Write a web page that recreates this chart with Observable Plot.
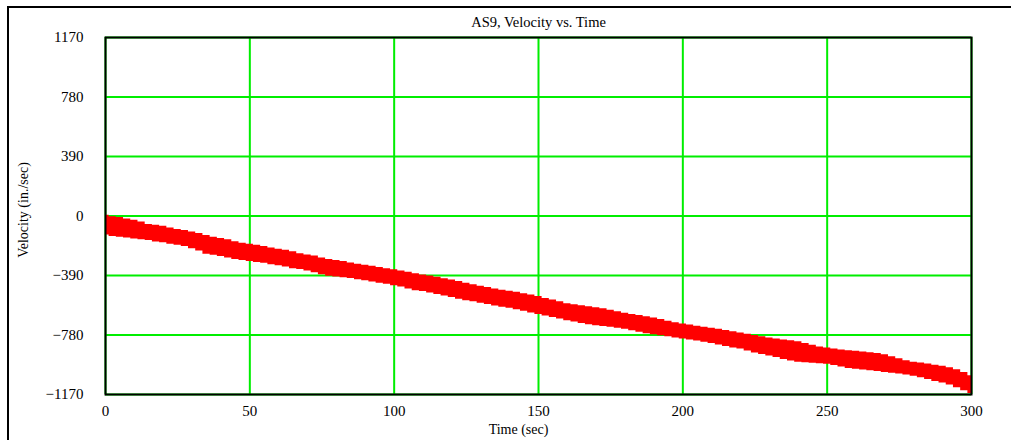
<!DOCTYPE html>
<html>
<head>
<meta charset="utf-8">
<script src="https://cdn.jsdelivr.net/npm/d3@7"></script>
<script src="https://cdn.jsdelivr.net/npm/@observablehq/plot@0.6"></script>
<style>
  html, body { margin: 0; padding: 0; background: #fff; overflow: hidden; }
  #wrap { position: relative; width: 1011px; height: 440px; overflow: hidden; }
  #box { position: absolute; left: 7px; top: 6px; width: 2000px; height: 2000px; border-left: 2px solid #000; border-top: 2px solid #000; }
  #chart { position: absolute; left: 0; top: 0; }
</style>
</head>
<body>
<div id="wrap"><div id="box"></div><div id="chart"></div></div>
<script>
const title = "AS9, Velocity vs. Time";
const xLabel = "Time (sec)";
const yLabel = "Velocity (in./sec)";
const xTicks = [0, 50, 100, 150, 200, 250, 300];
const yTicks = [-1170, -780, -390, 0, 390, 780, 1170];

const times = d3.range(0, 300.001, 2.5);
const upper = [5,-5,-10,-20,-28,-40,-55,-60,-68,-78,-88,-95,-105,-115,-128,-140,-148,-155,-168,-178,
  -185,-192,-200,-210,-218,-225,-235,-247,-255,-262,-275,-285,-292,-298,-308,-317,-322,-330,-338,-345,
  -352,-360,-368,-378,-386,-394,-402,-412,-420,-430,-440,-450,-460,-468,-478,-486,-494,-500,-510,-518,
  -528,-540,-550,-562,-575,-582,-588,-595,-602,-608,-618,-628,-637,-645,-652,-660,-668,-678,-690,-700,
  -708,-715,-722,-730,-736,-742,-750,-758,-767,-775,-783,-792,-800,-806,-812,-818,-825,-835,-848,-858,
  -866,-872,-878,-883,-887,-892,-897,-902,-910,-922,-935,-948,-958,-964,-970,-978,-985,-995,-1008,-1025,-1047];
const lower = [-125,-135,-140,-145,-150,-155,-160,-170,-175,-185,-192,-200,-215,-230,-250,-258,-265,-275,-285,-292,
  -298,-305,-310,-320,-326,-335,-345,-351,-360,-372,-385,-395,-400,-405,-410,-418,-425,-432,-440,-448,
  -458,-465,-478,-490,-495,-505,-515,-525,-535,-545,-555,-562,-572,-580,-590,-598,-605,-615,-625,-635,
  -645,-655,-665,-675,-686,-695,-705,-712,-720,-725,-730,-735,-742,-752,-762,-772,-778,-785,-792,-800,
  -806,-812,-820,-828,-835,-845,-855,-865,-872,-885,-898,-908,-917,-928,-940,-950,-958,-962,-965,-968,
  -972,-980,-990,-1000,-1005,-1010,-1015,-1020,-1025,-1030,-1036,-1043,-1050,-1060,-1072,-1085,-1095,-1108,-1125,-1145,-1164];

const data = times.map((t, i) => ({t, hi: upper[i], lo: lower[i]}));
const fmt = d => d < 0 ? "\u2212" + Math.abs(d) : String(d);
const green = "#00ee00";

const chart = Plot.plot({
  width: 1011,
  height: 440,
  marginLeft: 105,
  marginRight: 40,
  marginTop: 37,
  marginBottom: 46,
  style: {fontFamily: "'Liberation Serif', 'Times New Roman', serif", fontSize: "15px", color: "#000", background: "transparent"},
  x: {domain: [0, 300], ticks: xTicks},
  y: {domain: [-1170, 1170], ticks: yTicks},
  marks: [
    Plot.gridX(xTicks, {stroke: green, strokeOpacity: 1, strokeWidth: 2}),
    Plot.gridY(yTicks, {stroke: green, strokeOpacity: 1, strokeWidth: 2}),
    Plot.areaY(data, {x: "t", y1: "lo", y2: "hi", curve: "step", fill: "#ff0000"}),
    Plot.frame({stroke: "#000", strokeWidth: 2}),
    Plot.axisX(xTicks, {tickSize: 0, tickPadding: 11, tickFormat: fmt, label: null, fontSize: 15}),
    Plot.axisY(yTicks, {tickSize: 0, tickPadding: 22, tickFormat: fmt, label: null, fontSize: 15}),
    Plot.text([title], {frameAnchor: "top", dy: -15, fontSize: 14.5, lineAnchor: "middle"}),
    Plot.text([xLabel], {frameAnchor: "bottom", dx: -20, dy: 35, fontSize: 14, lineAnchor: "middle"}),
    Plot.text([yLabel], {frameAnchor: "left", dx: -82, dy: -6, rotate: -90, fontSize: 14, textAnchor: "middle", lineAnchor: "middle"})
  ]
});
document.getElementById("chart").appendChild(chart);
</script>
</body>
</html>
